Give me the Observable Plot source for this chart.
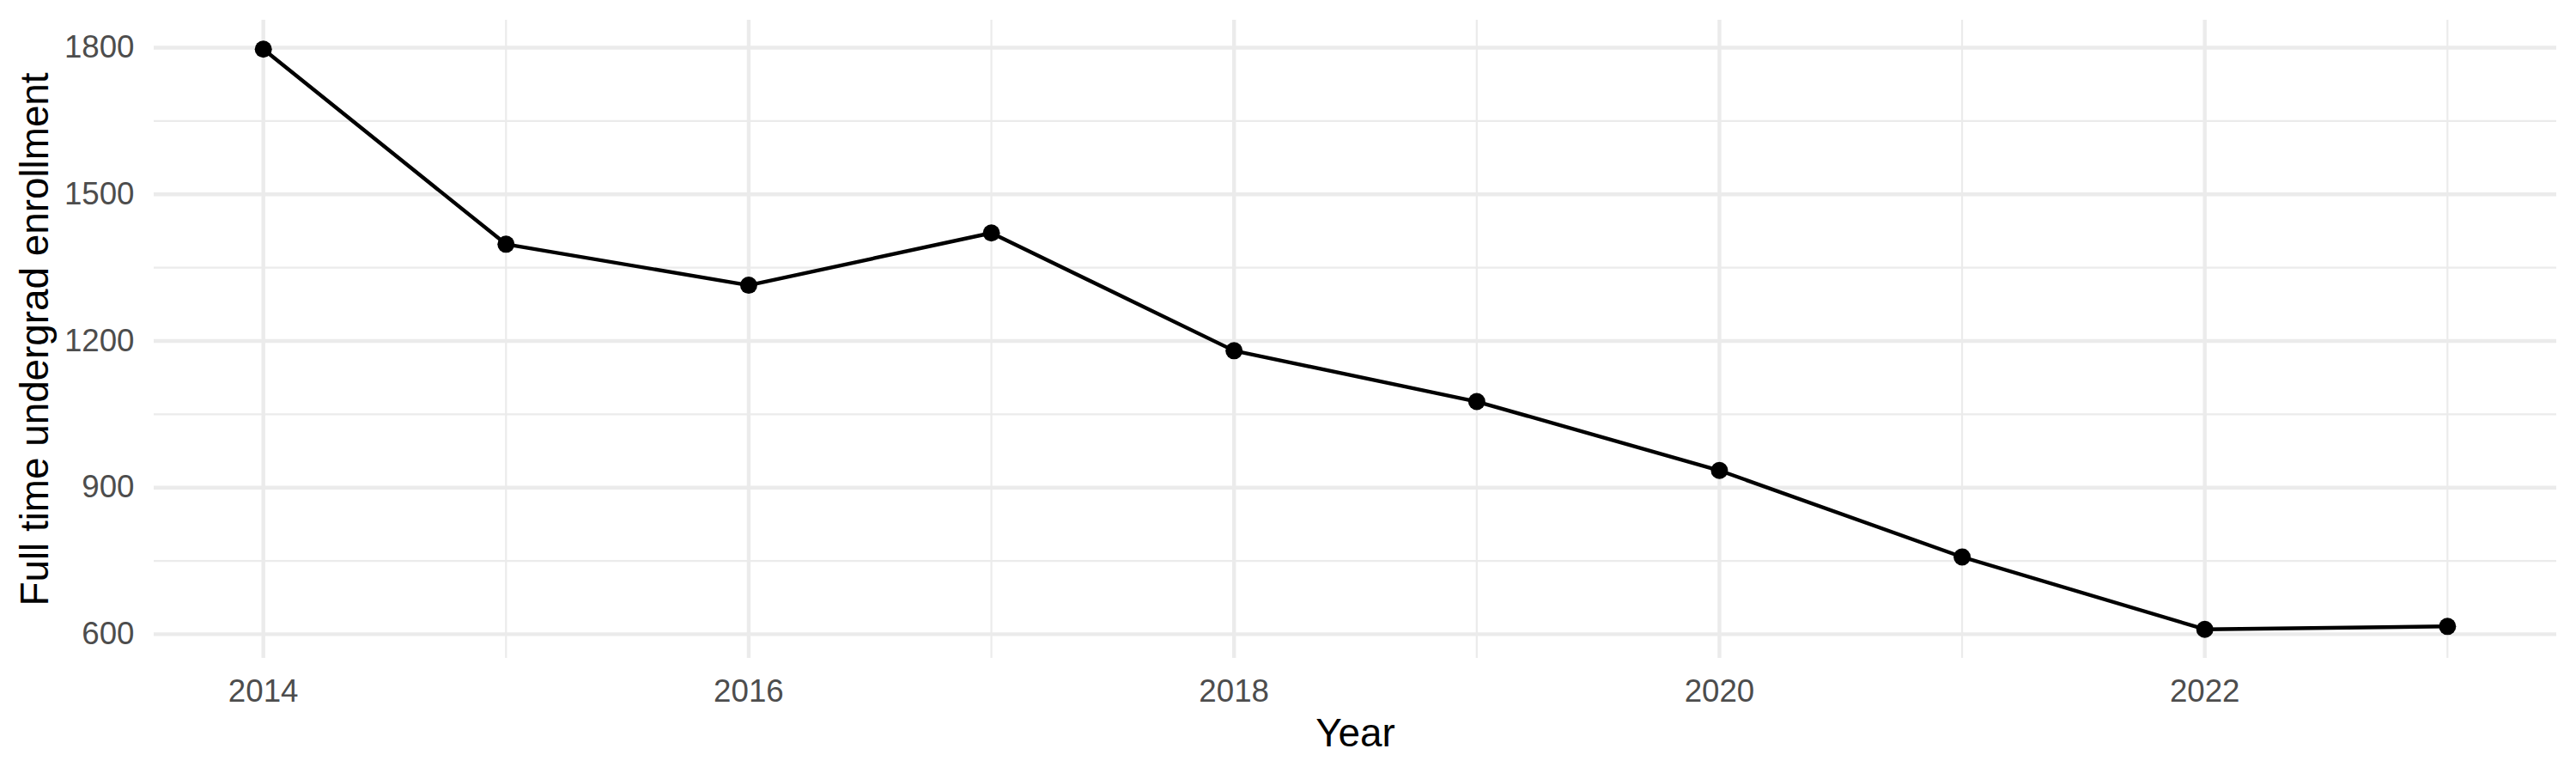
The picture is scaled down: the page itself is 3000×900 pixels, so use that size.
<!DOCTYPE html>
<html>
<head>
<meta charset="utf-8">
<script src="https://cdn.jsdelivr.net/npm/d3@7"></script>
<script src="https://cdn.jsdelivr.net/npm/@observablehq/plot@0.6"></script>
<style>
  html, body { margin: 0; padding: 0; background: #ffffff; }
  #chart svg { display: block; }
</style>
</head>
<body>
<div id="chart"></div>
<script>
const years = [2014, 2015, 2016, 2017, 2018, 2019, 2020, 2021, 2022, 2023];
const enrollment = [1797, 1398, 1314, 1421, 1180, 1076, 935, 758, 610, 616];
const xTicks = [2014, 2016, 2018, 2020, 2022];
const xMinor = [2015, 2017, 2019, 2021, 2023];
const yTicks = [600, 900, 1200, 1500, 1800];
const yMinor = [750, 1050, 1350, 1650];
const xTitle = "Year";
const yTitle = "Full time undergrad enrollment";

const data = years.map((y, i) => ({year: y, value: enrollment[i]}));

// ggplot-style 5% expansion
const yMin = d3.min(enrollment), yMax = d3.max(enrollment);
const yPad = (yMax - yMin) * 0.05;
const xMin = d3.min(years), xMax = d3.max(years);
const xPad = (xMax - xMin) * 0.05;

const grid = "#EBEBEB";
const tickColor = "#4D4D4D";

const chart = Plot.plot({
  width: 3000,
  height: 900,
  marginLeft: 179,
  marginRight: 23,
  marginTop: 23,
  marginBottom: 134,
  style: {fontFamily: "'Liberation Sans', Arial, Helvetica, sans-serif", background: "#ffffff"},
  x: {domain: [xMin - xPad, xMax + xPad]},
  y: {domain: [yMin - yPad, yMax + yPad]},
  marks: [
    Plot.ruleY(yMinor, {stroke: grid, strokeWidth: 2.2}),
    Plot.ruleX(xMinor, {stroke: grid, strokeWidth: 2.2}),
    Plot.ruleY(yTicks, {stroke: grid, strokeWidth: 4.4}),
    Plot.ruleX(xTicks, {stroke: grid, strokeWidth: 4.4}),
    Plot.axisX({ticks: xTicks, tickSize: 0, tickPadding: 24, tickFormat: d => String(d), fontSize: 36.7, color: tickColor, label: null}),
    Plot.axisY({ticks: yTicks, tickSize: 0, tickPadding: 23, tickFormat: d => String(d), fontSize: 36.7, color: tickColor, label: null}),
    Plot.text([xTitle], {frameAnchor: "bottom", textAnchor: "middle", dy: 102, lineAnchor: "bottom", fontSize: 45.8, fill: "#000000"}),
    Plot.text([yTitle], {frameAnchor: "left", textAnchor: "middle", dx: -124, rotate: -90, lineAnchor: "bottom", fontSize: 45.8, fill: "#000000"}),
    Plot.line(data, {x: "year", y: "value", stroke: "#000000", strokeWidth: 4.4}),
    Plot.dot(data, {x: "year", y: "value", r: 10, fill: "#000000", stroke: null})
  ]
});
document.getElementById("chart").appendChild(chart);
</script>
</body>
</html>
